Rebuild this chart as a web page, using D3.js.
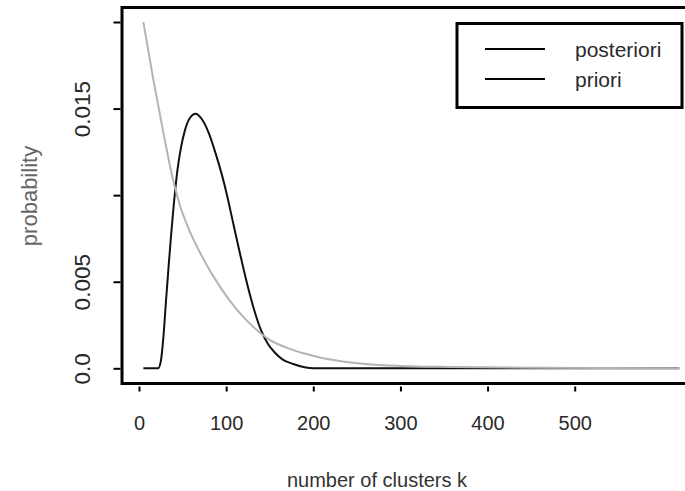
<!DOCTYPE html>
<html>
<head>
<meta charset="utf-8">
<script src="https://cdn.jsdelivr.net/npm/d3@7"></script>
<style>
  body { margin: 0; background: #fff; }
  svg { display: block; font-family: "Liberation Sans", Arial, sans-serif; }
</style>
</head>
<body>
<svg id="chart" width="685" height="491"></svg>
<script>
// values (k = number of clusters)
var priorK = [5, 16, 28, 39, 47, 55, 74, 93, 112, 131, 150, 170, 190, 210, 230, 260, 300, 360, 450, 620];
var priorP = [0.0200, 0.0168, 0.0136, 0.0109, 0.0094, 0.0083, 0.0063, 0.0047, 0.0034, 0.0024,
              0.00164, 0.00118, 0.00085, 0.00060, 0.00042, 0.00025, 0.00014, 0.00008, 0.00003, 0];

var postK = [5, 22, 25, 28, 31, 34, 37, 40, 44, 48, 53, 59, 65, 72, 80, 88, 95, 101, 108, 116,
             124, 132, 140, 148, 156, 165, 177, 190, 200, 620];
var postP = [0, 0, 0.0004, 0.0018, 0.0039, 0.0059, 0.0078, 0.0095, 0.0114, 0.0127, 0.0138, 0.0145,
             0.0147, 0.0144, 0.0136, 0.0124, 0.0112, 0.0100, 0.0084, 0.0066,
             0.0049, 0.0034, 0.0022, 0.0014, 0.0009, 0.0005, 0.00025, 0.00006, 0, 0];

var xTicks = [0, 100, 200, 300, 400, 500];
var yTicks = [0, 0.005, 0.010, 0.015, 0.020];
var yTickLabels = ["0.0", "0.005", "", "0.015", ""];
var legendNames = ["posteriori", "priori"];

var svg = d3.select("#chart");

var x = d3.scaleLinear().domain([0, 500]).range([139, 574.7]);
var y = d3.scaleLinear().domain([0, 0.02]).range([368.3, 22]);

// plot frame (right side runs off the picture)
svg.append("rect")
    .attr("x", 122).attr("y", 7.5)
    .attr("width", 600).attr("height", 376)
    .attr("fill", "none").attr("stroke", "#000").attr("stroke-width", 3);

// y axis
var yAxis = svg.append("g")
    .attr("transform", "translate(120.5,0)")
    .call(d3.axisLeft(y).tickValues(yTicks).tickSize(7)
        .tickFormat(function(d, i) { return yTickLabels[i]; }));
yAxis.select(".domain").remove();
yAxis.selectAll(".tick line").attr("stroke", "#000").attr("stroke-width", 2);
yAxis.selectAll(".tick text")
    .attr("x", null).attr("dy", null)
    .attr("text-anchor", "middle")
    .attr("transform", "translate(-30.5,0) rotate(-90)")
    .attr("font-size", 22.5)
    .attr("fill", "#2a2a2a")
    .attr("font-family", "Liberation Sans, Arial, sans-serif");

// x axis
var xAxis = svg.append("g")
    .attr("transform", "translate(0,386.5)")
    .call(d3.axisBottom(x).tickValues(xTicks).tickSize(5).tickFormat(d3.format("d")));
xAxis.select(".domain").remove();
xAxis.selectAll(".tick line").attr("stroke", "#000").attr("stroke-width", 2);
xAxis.selectAll(".tick text")
    .attr("y", 43.5).attr("dy", null)
    .attr("font-size", 20)
    .attr("fill", "#2a2a2a")
    .attr("font-family", "Liberation Sans, Arial, sans-serif");

// axis titles
svg.append("text")
    .attr("x", 377).attr("y", 487)
    .attr("text-anchor", "middle")
    .attr("font-size", 20)
    .attr("fill", "#333")
    .text("number of clusters k");

svg.append("text")
    .attr("transform", "translate(37,196) rotate(-90)")
    .attr("text-anchor", "middle")
    .attr("font-size", 22)
    .attr("fill", "#666")
    .text("probability");

// curves
var line = d3.line()
    .x(function(d) { return x(d[0]); })
    .y(function(d) { return y(d[1]); })
    .curve(d3.curveMonotoneX);

svg.append("path")
    .datum(d3.zip(postK, postP))
    .attr("d", line)
    .attr("fill", "none")
    .attr("stroke", "#111")
    .attr("stroke-width", 2);

svg.append("path")
    .datum(d3.zip(priorK, priorP))
    .attr("d", line)
    .attr("fill", "none")
    .attr("stroke", "#b4b4b4")
    .attr("stroke-width", 2);

// legend
var legend = svg.append("g");
legend.append("rect")
    .attr("x", 457).attr("y", 23.5)
    .attr("width", 225).attr("height", 84)
    .attr("fill", "#fff").attr("stroke", "#000").attr("stroke-width", 3);

legend.selectAll("line.key")
    .data(legendNames)
    .enter().append("line")
    .attr("class", "key")
    .attr("x1", 485).attr("x2", 545)
    .attr("y1", function(d, i) { return 49 + i * 30; })
    .attr("y2", function(d, i) { return 49 + i * 30; })
    .attr("stroke", "#000").attr("stroke-width", 2);

legend.selectAll("text")
    .data(legendNames)
    .enter().append("text")
    .attr("x", 575)
    .attr("y", function(d, i) { return 57 + i * 30; })
    .attr("font-size", 21)
    .attr("fill", "#2a2a2a")
    .text(function(d) { return d; });
</script>
</body>
</html>
